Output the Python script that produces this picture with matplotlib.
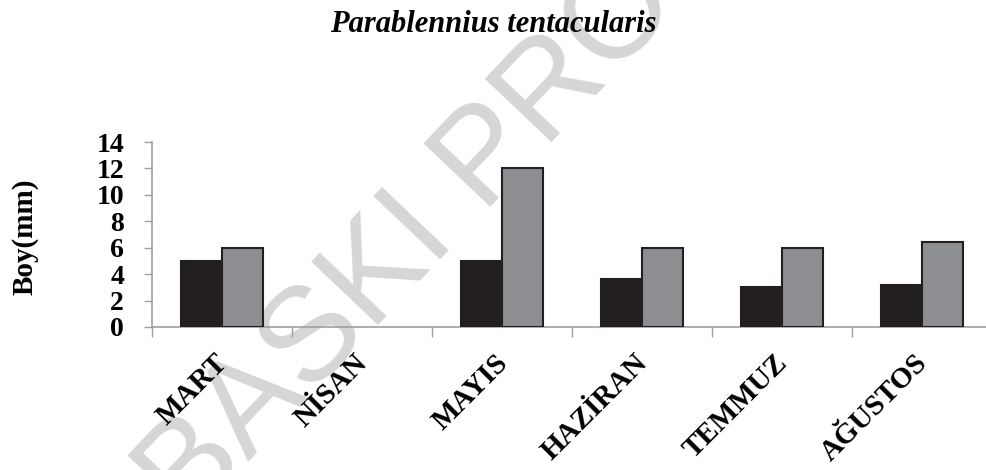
import numpy as np
import matplotlib
matplotlib.use("Agg")
from matplotlib import pyplot as plt
import matplotlib.transforms as mtransforms

# data
months = ["MART", "NİSAN", "MAYIS", "HAZİRAN", "TEMMUZ", "AĞUSTOS"]
series_black = [5.0, np.nan, 5.0, 3.6, 3.0, 3.2]
series_gray = [6.0, np.nan, 12.0, 6.0, 6.0, 6.4]
y_ticks = [0, 2, 4, 6, 8, 10, 12, 14]

title = "Parablennius tentacularis"
y_label = "Boy(mm)"
watermark = "BASKI PRO"

plt.rcParams['font.family'] = ['Liberation Serif', 'DejaVu Serif']

W, H = 987, 470
fig = plt.figure(figsize=(W / 100, H / 100), dpi=100)

# watermark, behind the chart (baseline start estimated in pixels)
fig.text(187 / W, 1 - 526 / H, watermark, family=['Liberation Sans', 'DejaVu Sans'],
         fontsize=96, color='#d6d6d6', rotation=46.5, rotation_mode='anchor',
         ha='left', va='baseline', zorder=-5)

ax = fig.add_axes([152 / W, 1 - 327 / H, (992 - 152) / W, (327 - 142) / H])
ax.patch.set_alpha(0)

x = np.arange(len(months))
w = 0.29
ax.bar(x - w / 2, series_black, w, color='#231f20', edgecolor='#231f20', linewidth=1.5, zorder=3)
ax.bar(x + w / 2, series_gray, w, color='#8d8e92', edgecolor='#231f20', linewidth=1.5, zorder=3)

ax.set_xlim(-0.5, len(months) - 0.5)
ax.set_ylim(0, 14)
ax.set_yticks(y_ticks)
ax.set_yticklabels([str(v) for v in y_ticks], fontsize=20, fontweight='bold')
ax.tick_params(axis='y', length=6, width=1, color='#a0a0a0', pad=14)

ax.set_xticks(x)
ax.set_xticklabels(months, rotation=45, ha='right', va='top',
                   fontsize=21, fontweight='bold')
ax.set_xticks(np.arange(len(months) + 1) - 0.5, minor=True)
ax.tick_params(axis='x', which='major', length=0, pad=16)
ax.tick_params(axis='x', which='minor', length=7, width=1, color='#a0a0a0')

# nudge the rotated month names a little to the right
shift = mtransforms.ScaledTranslation(0.11, 0, fig.dpi_scale_trans)
for lbl in ax.get_xticklabels():
    lbl.set_transform(lbl.get_transform() + shift)

for s in ['top', 'right']:
    ax.spines[s].set_visible(False)
for s in ['left', 'bottom']:
    ax.spines[s].set_color('#a0a0a0')
    ax.spines[s].set_linewidth(1.2)

fig.text(25 / W, 1 - 237 / H, y_label, rotation=90, ha='center', va='center',
         fontsize=21, fontweight='bold')
fig.text(493 / W, 1 - 24 / H, title, ha='center', va='center',
         fontsize=22, fontweight='bold', fontstyle='italic')

fig.savefig('out.png', dpi=100)
